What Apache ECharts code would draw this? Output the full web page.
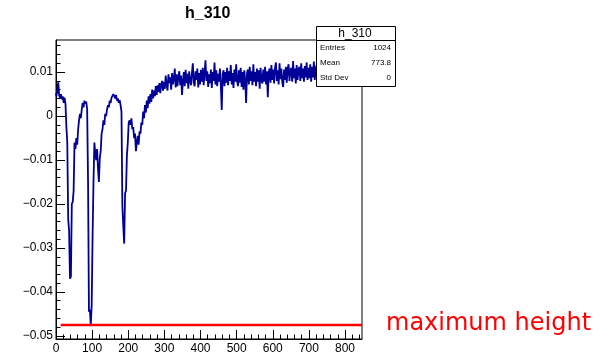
<!DOCTYPE html>
<html>
<head>
<meta charset="utf-8">
<script src="https://cdn.jsdelivr.net/npm/echarts@6/dist/echarts.min.js"></script>
<style>
html,body{margin:0;padding:0;background:#fff;}
#chart{width:605px;height:361px;}
</style>
</head>
<body>
<div id="chart"></div>
<script>
// ---- data ----
var histTitle = 'h_310';
var xStart = 0;
var xStep = 2.5;
var binValues = [
  // 0 - 30
  0.0052, 0.0045, 0.0058, 0.0077, 0.0048, 0.0040, 0.0050, 0.0038, 0.0045, 0.0030, 0.0042, 0.0028, -0.0025,
  // 32.5 - 47.5
  -0.0060, -0.0235, -0.0260, -0.0370, -0.0365, -0.0200, -0.0195,
  // 50 - 87.5
  -0.0170, -0.0060, -0.0075, -0.0050, -0.0065, -0.0030, -0.0010, 0.0005, -0.0005, 0.0015, 0.0030, 0.0020, 0.0035, 0.0028, 0.0033, 0.0015,
  // 90 - 107.5
  -0.0150, -0.0445, -0.0440, -0.0475, -0.0430, -0.0275, -0.0150, -0.0060,
  // 110 - 182.5
  -0.0085, -0.0100, -0.0075, -0.0120, -0.0150, -0.0095, -0.0080, -0.0040, -0.0030, -0.0010,
  -0.0020, 0.0005, 0.0000, 0.0015, 0.0025, 0.0020, 0.0035, 0.0030, 0.0042, 0.0038,
  0.0050, 0.0045, 0.0040, 0.0048, 0.0035, 0.0040, 0.0030, 0.0036, 0.0025, 0.0010,
  // 185 - 197.5
  -0.0205, -0.0250, -0.0290, -0.0175, -0.0170, -0.0090,
  // 200 - 237.5
  -0.0060, -0.0015, -0.0010, -0.0020, -0.0005, -0.0030, -0.0025, -0.0050, -0.0040, -0.0080,
  -0.0060, -0.0045, -0.0065, -0.0035, -0.0040, -0.0015,
  // 240 - 300
  -0.0020, 0.0010, -0.0005, 0.0025, 0.0008, 0.0035, 0.0018, 0.0045, 0.0028, 0.0050,
  0.0032, 0.0060, 0.0040, 0.0058, 0.0045, 0.0068, 0.0048, 0.0070, 0.0055, 0.0075,
  0.0052, 0.0072, 0.0080, 0.0058, 0.0078,
  // 302.5 - 805
  0.0062, 0.0092, 0.0070, 0.0058, 0.0095, 0.0075, 0.0088, 0.0060, 0.0098, 0.0072,
  0.0085, 0.0108, 0.0065, 0.0095, 0.0068, 0.0090, 0.0102, 0.0070, 0.0092, 0.0048,
  0.0078, 0.0100, 0.0068, 0.0105, 0.0075, 0.0096, 0.0062, 0.0102, 0.0080, 0.0070,
  0.0098, 0.0120, 0.0075, 0.0068, 0.0102, 0.0082, 0.0108, 0.0065, 0.0098, 0.0072,
  0.0105, 0.0078, 0.0110, 0.0070, 0.0098, 0.0127, 0.0080, 0.0102, 0.0066, 0.0095,
  0.0075, 0.0106, 0.0064, 0.0100, 0.0080, 0.0122, 0.0072, 0.0104, 0.0068, 0.0096,
  0.0078, 0.0108, 0.0070, 0.0014, 0.0096, 0.0104, 0.0068, 0.0100, 0.0076, 0.0110,
  0.0070, 0.0102, 0.0080, 0.0116, 0.0072, 0.0098, 0.0064, 0.0106, 0.0078, 0.0118,
  0.0080, 0.0068, 0.0104, 0.0076, 0.0110, 0.0066, 0.0100, 0.0060, 0.0104, 0.0080,
  0.0030, 0.0098, 0.0106, 0.0072, 0.0112, 0.0080, 0.0102, 0.0070, 0.0118, 0.0078,
  0.0100, 0.0068, 0.0108, 0.0078, 0.0104, 0.0062, 0.0110, 0.0082, 0.0074, 0.0106,
  0.0078, 0.0112, 0.0072, 0.0102, 0.0043, 0.0100, 0.0108, 0.0076, 0.0116, 0.0082,
  0.0106, 0.0074, 0.0110, 0.0122, 0.0080, 0.0104, 0.0072, 0.0120, 0.0084, 0.0108,
  0.0078, 0.0066, 0.0106, 0.0082, 0.0112, 0.0076, 0.0108, 0.0118, 0.0080, 0.0104,
  0.0110, 0.0078, 0.0125, 0.0086, 0.0108, 0.0074, 0.0116, 0.0082, 0.0106, 0.0112,
  0.0080, 0.0120, 0.0086, 0.0108, 0.0078, 0.0114, 0.0088, 0.0122, 0.0082, 0.0110,
  0.0086, 0.0118, 0.0078, 0.0112, 0.0088, 0.0124, 0.0082, 0.0108, 0.0116, 0.0085,
  0.0110, 0.0080, 0.0120, 0.0088, 0.0112, 0.0084, 0.0126, 0.0090, 0.0082, 0.0116,
  0.0088, 0.0112, 0.0122, 0.0084, 0.0110, 0.0118, 0.0082, 0.0114, 0.0090, 0.0124,
  0.0088, 0.0112, 0.0084, 0.0120, 0.0090, 0.0116, 0.0086, 0.0112, 0.0088, 0.0118,
  0.0092, 0.0106
];
var redLineX = [13, 847];
var redLineY = -0.0475;
var redLabel = 'maximum height';

var xMajorTicks = [0, 100, 200, 300, 400, 500, 600, 700, 800];
var xMinorTicks = [0, 20, 40, 60, 80, 100, 120, 140, 160, 180, 200, 220, 240, 260, 280, 300, 320, 340, 360, 380,
  400, 420, 440, 460, 480, 500, 520, 540, 560, 580, 600, 620, 640, 660, 680, 700, 720, 740, 760, 780, 800, 820, 840];
var yMajorTicks = [-0.05, -0.04, -0.03, -0.02, -0.01, 0, 0.01];
var yMinorTicks = [-0.050, -0.048, -0.046, -0.044, -0.042, -0.040, -0.038, -0.036, -0.034, -0.032,
  -0.030, -0.028, -0.026, -0.024, -0.022, -0.020, -0.018, -0.016, -0.014, -0.012,
  -0.010, -0.008, -0.006, -0.004, -0.002, 0, 0.002, 0.004, 0.006, 0.008,
  0.010, 0.012, 0.014, 0.016];

var statNames = ['Entries', 'Mean', 'Std Dev'];
var statValues = ['1024', '773.8', '0'];

var xMin = 0, xMax = 847;
var yMin = -0.0507, yMax = 0.0173;

// ---- chart ----
var chart = echarts.init(document.getElementById('chart'), null, {renderer: 'canvas'});

var histData = binValues.map(function (v, i) { return [xStart + i * xStep, v]; });
var redData = redLineX.map(function (x) { return [x, redLineY]; });

function fmtY(v) {
  if (Math.abs(v) < 1e-9) return '0';
  return (v < 0 ? '\u2212' : '') + Math.abs(v).toFixed(2);
}

var FONT = 'Liberation Sans, Arial, Helvetica, sans-serif';

var graphics = [
  {type: 'text', z: 100, left: 185, top: 6,
   style: {text: histTitle, font: 'bold 16px ' + FONT, fill: '#000'}},
  {type: 'rect', z: 100, shape: {x: 316.5, y: 26.5, width: 79, height: 60},
   style: {fill: '#fff', stroke: '#000', lineWidth: 1}},
  {type: 'line', z: 101, shape: {x1: 316.5, y1: 40.5, x2: 395.5, y2: 40.5},
   style: {stroke: '#000', lineWidth: 1}},
  {type: 'text', z: 101, x: 355, y: 34,
   style: {text: histTitle, font: '12px ' + FONT, fill: '#000', align: 'center', verticalAlign: 'middle'}},
  {type: 'text', z: 100, x: 386, y: 324,
   style: {text: redLabel, font: '24px DejaVu Sans, sans-serif', fill: '#ff0000', verticalAlign: 'middle'}}
];
statNames.forEach(function (n, i) {
  graphics.push({type: 'text', z: 101, x: 320, y: 48 + i * 15,
    style: {text: n, font: '8px ' + FONT, fill: '#000', verticalAlign: 'middle'}});
  graphics.push({type: 'text', z: 101, x: 391, y: 48 + i * 15,
    style: {text: statValues[i], font: '8px ' + FONT, fill: '#000', align: 'right', verticalAlign: 'middle'}});
});

var option = {
  animation: false,
  backgroundColor: '#fff',
  grid: {left: 56, top: 40, width: 306, height: 299, show: true, borderColor: '#000', borderWidth: 1, backgroundColor: 'transparent'},
  xAxis: [
    {type: 'value', min: xMin, max: xMax, position: 'bottom',
     axisLine: {show: true, onZero: false, lineStyle: {color: '#000', width: 1}},
     axisTick: {show: true, inside: true, length: 9, customValues: xMajorTicks, lineStyle: {color: '#000', width: 1}},
     axisLabel: {show: true, customValues: xMajorTicks, margin: 4, fontSize: 12, fontFamily: FONT, color: '#000'},
     splitLine: {show: false}},
    {type: 'value', min: xMin, max: xMax, position: 'bottom',
     axisLine: {show: false, onZero: false},
     axisTick: {show: true, inside: true, length: 4.5, customValues: xMinorTicks, lineStyle: {color: '#000', width: 1}},
     axisLabel: {show: false},
     splitLine: {show: false}}
  ],
  yAxis: [
    {type: 'value', min: yMin, max: yMax, position: 'left',
     axisLine: {show: true, onZero: false, lineStyle: {color: '#000', width: 1}},
     axisTick: {show: true, inside: true, length: 9, customValues: yMajorTicks, lineStyle: {color: '#000', width: 1}},
     axisLabel: {show: true, customValues: yMajorTicks, margin: 3, fontSize: 12, fontFamily: FONT, color: '#000', formatter: fmtY},
     splitLine: {show: false}},
    {type: 'value', min: yMin, max: yMax, position: 'left',
     axisLine: {show: false, onZero: false},
     axisTick: {show: true, inside: true, length: 4.5, customValues: yMinorTicks, lineStyle: {color: '#000', width: 1}},
     axisLabel: {show: false},
     splitLine: {show: false}}
  ],
  series: [
    {type: 'line', name: histTitle, data: histData, xAxisIndex: 0, yAxisIndex: 0,
     step: 'middle', showSymbol: false, symbol: 'none',
     lineStyle: {color: '#000099', width: 1.8}, z: 3},
    {type: 'line', name: 'max', data: redData, xAxisIndex: 0, yAxisIndex: 0,
     showSymbol: false, symbol: 'none',
     lineStyle: {color: '#ff0000', width: 2.5}, z: 4}
  ],
  graphic: graphics
};
chart.setOption(option);
</script>
</body>
</html>
